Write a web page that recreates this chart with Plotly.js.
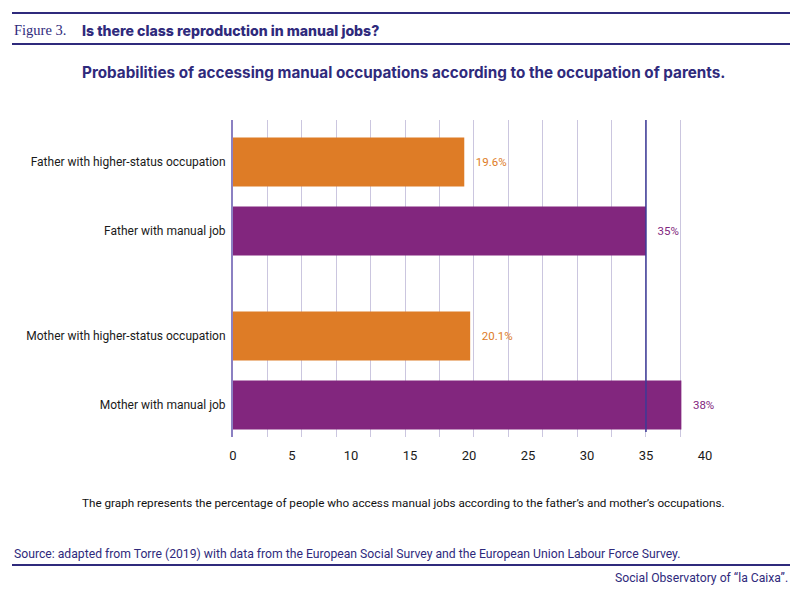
<!DOCTYPE html>
<html>
<head>
<meta charset="utf-8">
<script src="https://cdn.plot.ly/plotly-3.0.1.min.js"></script>
<style>
  html, body { margin: 0; padding: 0; background: #ffffff; }
  #chart { width: 800px; height: 591px; }
</style>
</head>
<body>
<div id="chart"></div>
<script>
// data
const labels = [
  'Father with higher-status occupation',
  'Father with manual job',
  'Mother with higher-status occupation',
  'Mother with manual job',
]
const values = [19.6, 35, 20.1, 38]
const parentGroup = [0, 0, 1, 1]   // 0 = father, 1 = mother
const jobType = ['higher', 'manual', 'higher', 'manual']
const xTicks = [0, 5, 10, 15, 20, 25, 30, 35, 40]
const referenceValue = 35

// styling
const NAVY = '#2f2a7c'
const colors = { higher: '#de7c26', manual: '#82267e' }
const GROUP_GAP = 0.52

// plot area in pixels, used to place the page furniture
const W = 800, H = 591
const L = 233, R = 715, T = 120, B = 437
const px = x => (x - L) / (R - L)
const py = y => (B - y) / (B - T)

const slot = labels.map((_, i) => i - parentGroup[i] * 2)
const positions = labels.map((_, i) => parentGroup[i] * (2 + GROUP_GAP) + slot[i])
const barColors = jobType.map(t => colors[t])
const xRange = [0, 40.85]

const bars = {
  type: 'bar',
  orientation: 'h',
  x: values,
  y: positions,
  marker: { color: barColors, line: { width: 0 } },
  texttemplate: '\u00a0\u00a0\u00a0%{x}%',
  textposition: 'outside',
  textfont: { family: 'Roboto, sans-serif', size: 11.5, color: barColors },
  cliponaxis: false,
  hoverinfo: 'skip',
  showlegend: false,
}

// empty trace so the label axis gets drawn
const labelAxis = {
  type: 'scatter',
  x: [],
  y: [],
  xaxis: 'x2',
  hoverinfo: 'skip',
  showlegend: false,
}

function note(text, x, y, opts) {
  return Object.assign({
    text: text,
    xref: 'paper', yref: 'paper',
    x: px(x), y: py(y),
    xanchor: 'left', yanchor: 'middle',
    showarrow: false,
    font: { family: 'Inter, sans-serif', size: 15, color: NAVY },
  }, opts || {})
}

function rule(y) {
  return {
    type: 'line', xref: 'paper', yref: 'paper',
    x0: px(12), x1: px(790), y0: py(y), y1: py(y),
    line: { color: NAVY, width: 2 },
  }
}

const layout = {
  width: W,
  height: H,
  paper_bgcolor: '#ffffff',
  plot_bgcolor: '#ffffff',
  margin: { l: L, r: W - R, t: T, b: H - B, pad: 0 },
  bargap: 0.29,
  font: { family: 'Roboto, sans-serif', size: 12, color: '#1a1a1a' },
  xaxis: {
    range: xRange,
    tick0: 0,
    dtick: referenceValue / 12,
    showgrid: true,
    gridcolor: '#cbc6df',
    gridwidth: 1,
    showticklabels: false,
    ticks: '',
    zeroline: false,
    showline: false,
    fixedrange: true,
  },
  xaxis2: {
    overlaying: 'x',
    anchor: 'y',
    side: 'bottom',
    range: xRange,
    tickmode: 'array',
    tickvals: xTicks,
    ticktext: xTicks.map(String),
    ticks: '',
    ticklabelstandoff: 9,
    tickfont: { family: 'Roboto, sans-serif', size: 13, color: '#1a1a1a' },
    showgrid: false,
    zeroline: false,
    showline: false,
    fixedrange: true,
  },
  yaxis: {
    range: [3.985, -0.609],
    tickmode: 'array',
    tickvals: positions,
    ticktext: labels,
    ticks: '',
    ticklabelstandoff: 3,
    tickfont: { family: 'Roboto, sans-serif', size: 12, color: '#1a1a1a' },
    showgrid: false,
    zeroline: false,
    showline: true,
    linecolor: '#8b80c2',
    linewidth: 2,
    fixedrange: true,
  },
  shapes: [
    rule(13),
    rule(44),
    rule(565),
    {
      type: 'line', xref: 'x', yref: 'paper', layer: 'above',
      x0: referenceValue, x1: referenceValue, y0: py(120), y1: py(432),
      line: { color: '#3d3a96', width: 1.5 },
    },
  ],
  annotations: [
    note('Figure 3.', 12, 30, {
      font: { family: 'Liberation Serif, DejaVu Serif, serif', size: 14.5, color: NAVY },
    }),
    note('Is there class reproduction in manual jobs?', 80, 30, {
      font: { family: 'Inter, sans-serif', size: 14.1, color: NAVY, weight: 800 },
    }),
    note('Probabilities of accessing manual occupations according to the occupation of parents.', 403, 72, {
      xanchor: 'center',
      font: { family: 'Inter, sans-serif', size: 15.25, color: NAVY, weight: 700 },
    }),
    note('The graph represents the percentage of people who access manual jobs according to the father\u2019s and mother\u2019s occupations.', 403, 503, {
      xanchor: 'center',
      font: { family: 'Roboto, sans-serif', size: 11.7, color: '#111111' },
    }),
    note('Source: adapted from Torre (2019) with data from the European Social Survey and the European Union Labour Force Survey.', 12, 554, {
      font: { family: 'Roboto, sans-serif', size: 12.2, color: NAVY },
    }),
    note('Social Observatory of \u201cla Caixa\u201d.', 790, 578, {
      xanchor: 'right',
      font: { family: 'Roboto, sans-serif', size: 12.2, color: NAVY },
    }),
  ],
}

const config = { displayModeBar: false, staticPlot: true }

Plotly.newPlot('chart', [bars, labelAxis], layout, config)
</script>
</body>
</html>
